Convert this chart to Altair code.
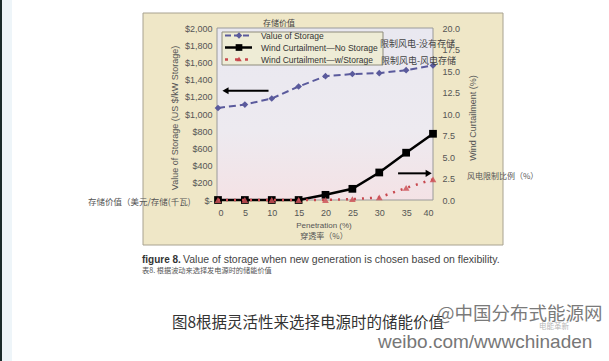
import altair as alt
import pandas as pd

# ---- data -------------------------------------------------------------
penetration = [0, 5, 10, 15, 20, 25, 30, 35, 40]
storage_value = [1070, 1110, 1180, 1320, 1440, 1465, 1475, 1510, 1565]      # US $/kW
curtail_no_storage = [0, 0, 0, 0, 0.6, 1.3, 3.2, 5.5, 7.7]                  # %
curtail_w_storage = [0, 0, 0, 0, 0, 0.1, 0.3, 1.4, 2.4]                     # %

series_names = ["Value of Storage",
                "Wind Curtailment\u2014No Storage",
                "Wind Curtailment\u2014w/Storage"]
x_ticks = [0, 5, 10, 15, 20, 25, 30, 35, 40]
left_ticks = [0, 200, 400, 600, 800, 1000, 1200, 1400, 1600, 1800, 2000]
right_ticks = [0.0, 2.5, 5.0, 7.5, 10.0, 12.5, 15.0, 17.5, 20.0]

# pointer arrows (data units)
left_arrow_p = [1.4, 9.4]
left_arrow_v = [1270]
right_arrow_p = [33.5, 39.2]
right_arrow_v = [3.1]

# text
zh_top = "存储价值"
zh_no_storage = "限制风电-没有存储"
zh_w_storage = "限制风电-风电存储"
zh_left_note = "存储价值（美元/存储(千瓦)"
zh_right_note = "风电限制比例（%）"
left_title = "Value of Storage (US $/kW Storage)"
right_title = "Wind Curtailment (%)"
x_title = "Penetration (%)"
zh_x_title = "穿透率（%）"
fig_label = "figure 8."
fig_caption = "Value of storage when new generation is chosen based on flexibility."
zh_fig_caption = "表8. 根据波动来选择发电源时的储能价值"
zh_caption = "图8根据灵活性来选择电源时的储能价值"
mark_name = "@中国分布式能源网"
mark_url = "weibo.com/wwwchinaden"
mark_small = "电能革新"

# ---- styling ----------------------------------------------------------
W, H = 215, 172
SANS = "Liberation Sans"
CJK = "Noto Sans CJK SC"
PURPLE = "#5a5a9c"
RED = "#c8484e"
PANEL = "#efe7c7"
GREY = "#555555"

ONE = alt.Data(values=[{}])


def box(x, x2, y, y2, **kw):
    return alt.Chart(ONE).mark_rect(**kw).encode(
        x=alt.value(x), x2=alt.value(x2), y=alt.value(y), y2=alt.value(y2))


def label(text, x, y, **kw):
    return alt.Chart(ONE).mark_text(text=text, **kw).encode(
        x=alt.value(x), y=alt.value(y))


def seg(x, x2, y, **kw):
    return alt.Chart(ONE).mark_rule(**kw).encode(
        x=alt.value(x), x2=alt.value(x2), y=alt.value(y))


def dot(x, y, **kw):
    return alt.Chart(ONE).mark_point(**kw).encode(x=alt.value(x), y=alt.value(y))


# ---- axes & scales ----------------------------------------------------
x_axis = alt.Axis(values=x_ticks, title=None, domain=False, ticks=False, grid=False,
                  labelFont=SANS, labelFontSize=9, labelColor=GREY, labelPadding=8,
                  zindex=2)
x_scale = alt.Scale(domain=[0, 40], nice=False, zero=False)
x_enc = alt.X("p:Q", scale=x_scale, axis=x_axis)

left_axis = alt.Axis(orient="left", values=left_ticks, title=None, domain=False,
                     ticks=False, grid=False, labelFont=SANS, labelFontSize=9,
                     labelColor=GREY, labelPadding=6, zindex=2,
                     labelExpr="datum.value == 0 ? '$-' : '$' + format(datum.value, ',')")
right_axis = alt.Axis(orient="right", values=right_ticks, format=".1f", title=None,
                      domain=False, ticks=False, grid=False, labelFont=SANS,
                      labelFontSize=9, labelColor=GREY, labelPadding=9, zindex=2)
left_scale = alt.Scale(domain=[0, 2000], nice=False)
right_scale = alt.Scale(domain=[0, 20], nice=False)

df = pd.DataFrame({"p": penetration, "v": storage_value,
                   "ns": curtail_no_storage, "ws": curtail_w_storage})
base = alt.Chart(df)

yL = alt.Y("v:Q", scale=left_scale, axis=left_axis)
yNS = alt.Y("ns:Q", scale=right_scale, axis=right_axis)
yWS = alt.Y("ws:Q", scale=right_scale, axis=right_axis)

# ---- value of storage (left axis) ------------------------------------
storage_line = base.mark_line(color=PURPLE, strokeWidth=2, strokeDash=[7, 4]).encode(x=x_enc, y=yL)
storage_pts = base.mark_point(shape="diamond", filled=True, size=45, color=PURPLE,
                              opacity=1).encode(x=x_enc, y=yL)
arrow_l = pd.DataFrame({"p": [left_arrow_p[0]], "p2": [left_arrow_p[1]], "v": left_arrow_v})
arrow_l_rule = alt.Chart(arrow_l).mark_rule(color="black", strokeWidth=2).encode(
    x=x_enc, x2="p2:Q", y=yL)
arrow_l_head = alt.Chart(arrow_l).mark_point(shape="triangle-left", filled=True, size=50,
                                             color="black", opacity=1).encode(x=x_enc, y=yL)
left_group = alt.layer(storage_line, storage_pts, arrow_l_rule, arrow_l_head)

# ---- wind curtailment (right axis) -----------------------------------
ns_line = base.mark_line(color="black", strokeWidth=2.5).encode(x=x_enc, y=yNS)
ns_pts = base.mark_point(shape="square", filled=True, size=60, color="black",
                         opacity=1).encode(x=x_enc, y=yNS)
ws_line = base.mark_line(color=RED, strokeWidth=2.5, strokeDash=[2, 6]).encode(x=x_enc, y=yWS)
ws_pts = base.mark_point(shape="triangle-up", filled=True, size=45, color="#cc5258",
                         opacity=0.85).encode(x=x_enc, y=yWS)
arrow_r = pd.DataFrame({"p": [right_arrow_p[0]], "p2": [right_arrow_p[1]], "ns": right_arrow_v})
arrow_r_rule = alt.Chart(arrow_r).mark_rule(color="black", strokeWidth=2).encode(
    x=x_enc, x2="p2:Q", y=yNS)
arrow_r_head = alt.Chart(arrow_r).mark_point(shape="triangle-right", filled=True, size=50,
                                             color="black", opacity=1).encode(
    x=alt.X("p2:Q", scale=x_scale, axis=x_axis), y=yNS)
right_group = alt.layer(ns_line, ns_pts, ws_line, ws_pts, arrow_r_rule, arrow_r_head)

# ---- background decoration -------------------------------------------
plot_fill = alt.Gradient(
    gradient="linear", x1=0, x2=0, y1=0, y2=1,
    stops=[alt.GradientStop(color="#e9e8f0", offset=0),
           alt.GradientStop(color="#edeaf0", offset=0.6),
           alt.GradientStop(color="#f4e2e5", offset=1)])

decor = [
    box(-218, -216, -28, 333, fill="#1b2b2b"),
    box(-216, -206, -28, 333, fill="#eef5f9"),
    box(-75, 285, -15, 217, fill=PANEL, stroke="#a8a290", strokeWidth=1),
    box(-1, W, 0, H, fill=plot_fill, stroke="#9a9a9a", strokeWidth=1),
]

# ---- legend box -------------------------------------------------------
legend = [
    box(4, 165, 4, 37, fill="#eeecd6", stroke="#8e8c7c", strokeWidth=1),
    seg(7, 34, 7.5, color=PURPLE, strokeWidth=2, strokeDash=[6, 3]),
    dot(21, 7.5, shape="diamond", filled=True, size=40, color=PURPLE, opacity=1),
    seg(7, 34, 19.5, color="black", strokeWidth=2.5),
    dot(21, 19.5, shape="square", filled=True, size=45, color="black", opacity=1),
    seg(7, 34, 31.5, color=RED, strokeWidth=2.5, strokeDash=[3, 7]),
    dot(21, 31, shape="triangle-up", filled=True, size=30, color=RED, opacity=1),
    label(series_names[0], 43, 7.5, font=SANS, fontSize=8.5, color="#333", align="left", baseline="middle"),
    label(series_names[1], 43, 19.5, font=SANS, fontSize=8.5, color="#333", align="left", baseline="middle"),
    label(series_names[2], 43, 31.5, font=SANS, fontSize=8.5, color="#333", align="left", baseline="middle"),
]

# ---- annotations ------------------------------------------------------
notes = [
    label(zh_top, 45, -4, font=CJK, fontSize=8, color="#444", align="left", baseline="middle"),
    label(zh_no_storage, 162, 15.5, font=CJK, fontSize=9, color="#444", align="left", baseline="middle"),
    label(zh_w_storage, 163, 33, font=CJK, fontSize=9, color="#444", align="left", baseline="middle"),
    label(zh_left_note, -130, 174, font=CJK, fontSize=8.5, color=GREY, align="left", baseline="middle"),
    label(zh_right_note, 249, 149, font=CJK, fontSize=8, color=GREY, align="left", baseline="middle"),
    label(left_title, -43, 90, font=SANS, fontSize=9, color=GREY, angle=270, align="center", baseline="middle"),
    label(right_title, 255, 90, font=SANS, fontSize=9, color=GREY, angle=270, align="center", baseline="middle"),
    label(x_title, 106, 197.5, font=SANS, fontSize=8, color=GREY, align="center", baseline="middle"),
    label(zh_x_title, 106, 209, font=CJK, fontSize=8, color=GREY, align="center", baseline="middle"),
    label(fig_label, -76, 232, font=SANS, fontSize=10, fontWeight="bold", color="#333", align="left", baseline="middle"),
    label(fig_caption, -35, 232, font=SANS, fontSize=10.5, color="#444", align="left", baseline="middle"),
    label(zh_fig_caption, -76, 243, font=CJK, fontSize=7.2, color=GREY, align="left", baseline="middle"),
    label(zh_caption, -46, 295, font=CJK, fontSize=15.5, color="#333", align="left", baseline="middle"),
    label(mark_name, 219, 286, font=CJK, fontSize=18.5, color="#7a7a7a", align="left", baseline="middle"),
    label(mark_small, 321, 299, font=CJK, fontSize=7.5, color="#b8b8b8", align="left", baseline="middle"),
    label(mark_url, 160, 314, font=SANS, fontSize=19, color="#777777", align="left", baseline="middle"),
]

chart = alt.layer(
    *decor, left_group, right_group, *legend, *notes
).resolve_scale(
    y="independent"
).properties(
    width=W, height=H,
    padding={"left": 218, "top": 28, "right": 176, "bottom": 161},
    autosize=alt.AutoSizeParams(type="none"),
    background="white",
).configure_view(stroke=None)

chart.save("out.html", embed_options={"renderer": "svg", "actions": False})
